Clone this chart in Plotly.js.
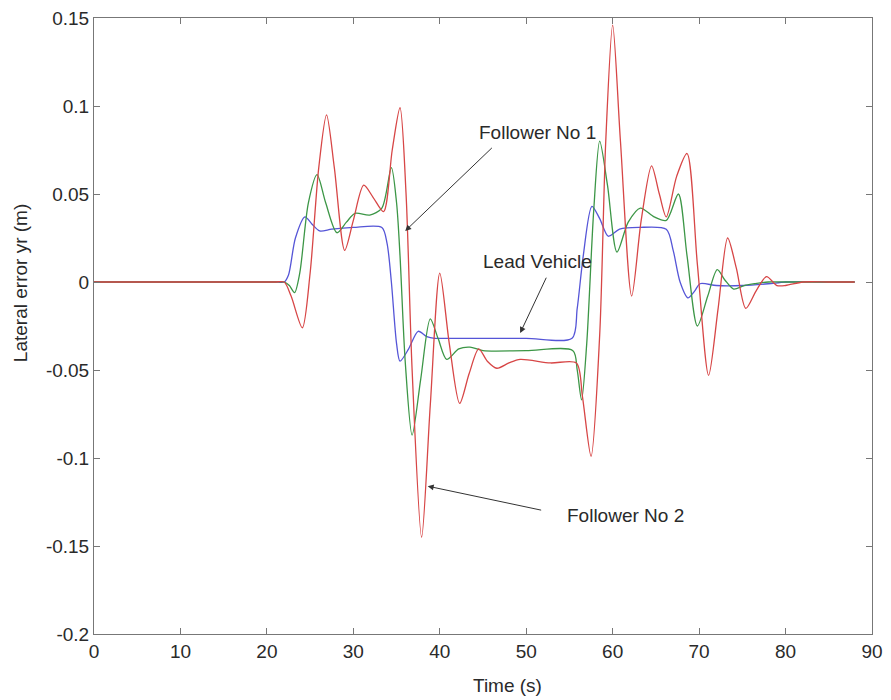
<!DOCTYPE html>
<html>
<head>
<meta charset="utf-8">
<script src="https://cdn.plot.ly/plotly-3.0.1.min.js"></script>
<style>html,body{margin:0;padding:0;background:#fff;}#chart{width:891px;height:700px;}</style>
</head>
<body>
<div id="chart"></div>
<script>
// Lead vehicle (blue)
const leadT = [0, 5, 10, 15, 20, 21, 22, 22.5, 23.3, 24.4, 25.2, 26.1, 27.5, 30, 33.3, 33.9, 34.4, 35.0, 35.4, 36.4, 37.5, 38.5, 39.4, 41, 45, 50, 55.3, 55.9, 56.6, 57.6, 58.5, 59.5, 60.8, 63, 66.2, 67, 67.8, 68.7, 69.5, 70.1, 72, 75, 78, 80, 84, 88];
const leadY = [0, 0, 0, 0, 0, 0, 0, 0.004, 0.025, 0.037, 0.033, 0.029, 0.030, 0.031, 0.031, 0.022, 0.000, -0.035, -0.045, -0.038, -0.028, -0.031, -0.032, -0.032, -0.032, -0.032, -0.032, -0.015, 0.015, 0.043, 0.036, 0.026, 0.030, 0.031, 0.030, 0.018, 0.000, -0.009, -0.005, -0.001, -0.002, -0.002, -0.001, 0, 0, 0];
// Follower No 1 (green)
const f1T = [0, 5, 10, 15, 20, 21, 22, 22.6, 23.2, 23.8, 24.8, 25.8, 26.8, 28.1, 29.2, 30.2, 31.9, 33.3, 34.4, 35.0, 35.4, 36.0, 36.8, 37.8, 38.9, 39.8, 40.8, 42.2, 43.5, 45, 50, 55.4, 55.9, 56.4, 57.0, 57.8, 58.5, 59.4, 60.5, 61.8, 63.2, 64.8, 66.2, 67.6, 68.6, 69.8, 71.0, 72.1, 73.0, 74.0, 75.2, 76.4, 78, 80, 84, 88];
const f1Y = [0, 0, 0, 0, 0, 0, 0, -0.002, -0.006, 0.005, 0.045, 0.061, 0.045, 0.028, 0.034, 0.039, 0.038, 0.042, 0.065, 0.045, 0.015, -0.045, -0.087, -0.055, -0.021, -0.032, -0.044, -0.038, -0.037, -0.039, -0.039, -0.039, -0.050, -0.067, -0.035, 0.040, 0.080, 0.055, 0.017, 0.034, 0.042, 0.037, 0.035, 0.050, 0.015, -0.025, -0.008, 0.007, 0.001, -0.004, -0.002, -0.001, 0, 0, 0, 0];
// Follower No 2 (red)
const f2T = [0, 5, 10, 15, 20, 21, 22, 22.8, 24.1, 25.0, 26.0, 26.9, 27.8, 29.0, 30.0, 31.2, 32.3, 33.5, 34.5, 35.4, 36.1, 36.8, 37.9, 38.9, 40.0, 41.1, 42.3, 43.4, 44.5, 45.5, 46.6, 48, 49.3, 52.8, 55.8, 56.5, 57.5, 58.5, 59.2, 60.0, 60.9, 62.2, 63.3, 64.5, 65.4, 66.2, 67.4, 68.6, 69.8, 71.1, 72.2, 73.3, 74.3, 75.4, 76.6, 77.8, 79, 80, 82, 85, 88];
const f2Y = [0, 0, 0, 0, 0, 0, 0, -0.008, -0.026, 0.005, 0.065, 0.095, 0.065, 0.018, 0.035, 0.055, 0.048, 0.040, 0.075, 0.099, 0.050, -0.050, -0.145, -0.070, 0.005, -0.035, -0.069, -0.052, -0.038, -0.045, -0.049, -0.046, -0.044, -0.046, -0.046, -0.065, -0.099, -0.030, 0.080, 0.146, 0.080, -0.008, 0.035, 0.066, 0.050, 0.037, 0.060, 0.073, 0.010, -0.053, -0.015, 0.025, 0.008, -0.015, -0.005, 0.003, -0.002, -0.002, 0, 0, 0];

const xTicks = [0, 10, 20, 30, 40, 50, 60, 70, 80, 90];
const yTicks = [-0.2, -0.15, -0.1, -0.05, 0, 0.05, 0.1, 0.15];
const yTickText = ['-0.2', '-0.15', '-0.1', '-0.05', '0', '0.05', '0.1', '0.15'];

const lineStyle = (c) => ({color: c, width: 1.3, shape: 'spline', smoothing: 0.8});
const traces = [
  {x: leadT, y: leadY, mode: 'lines', name: 'Lead Vehicle', line: lineStyle('rgb(85,85,215)')},
  {x: f1T, y: f1Y, mode: 'lines', name: 'Follower No 1', line: lineStyle('rgb(60,150,70)')},
  {x: f2T, y: f2Y, mode: 'lines', name: 'Follower No 2', line: lineStyle('rgb(215,70,70)')}
];

const font = {family: 'Liberation Sans, Arial, sans-serif', size: 19, color: '#2a2a2a'};
const axisCommon = {
  showgrid: false, zeroline: false, showline: true, mirror: 'ticks',
  linecolor: '#777', linewidth: 1, ticks: 'inside', ticklen: 6, tickcolor: '#777',
  tickfont: font
};

const arrowCommon = {xref: 'x', yref: 'y', axref: 'x', ayref: 'y', text: '', showarrow: true,
  arrowhead: 2, arrowsize: 1.2, arrowwidth: 1, arrowcolor: '#333'};

const layout = {
  width: 891, height: 700,
  margin: {l: 94, r: 19, t: 18, b: 66},
  paper_bgcolor: '#fff', plot_bgcolor: '#fff',
  showlegend: false,
  font: font,
  xaxis: Object.assign({}, axisCommon, {range: [0, 90], tickvals: xTicks}),
  yaxis: Object.assign({}, axisCommon, {range: [-0.2, 0.15], tickvals: yTicks, ticktext: yTickText}),
  annotations: [
    {xref: 'paper', yref: 'paper', x: 0.531, y: -0.083, xanchor: 'center', yanchor: 'middle', text: 'Time (s)', showarrow: false, font: font},
    {xref: 'paper', yref: 'paper', x: -0.0935, y: 0.57, xanchor: 'center', yanchor: 'middle', text: 'Lateral error yr (m)', textangle: -90, showarrow: false, font: font},
    {xref: 'x', yref: 'y', x: 51.3, y: 0.085, text: 'Follower No 1', showarrow: false, font: font},
    {xref: 'x', yref: 'y', x: 51.3, y: 0.0116, text: 'Lead Vehicle', showarrow: false, font: font},
    {xref: 'x', yref: 'y', x: 61.5, y: -0.1327, text: 'Follower No 2', showarrow: false, font: font},
    Object.assign({}, arrowCommon, {x: 36.0, y: 0.029, ax: 46.2, ay: 0.077}),
    Object.assign({}, arrowCommon, {x: 49.3, y: -0.029, ax: 52.4, ay: 0.0033}),
    Object.assign({}, arrowCommon, {x: 38.6, y: -0.116, ax: 51.9, ay: -0.1298})
  ]
};

Plotly.newPlot('chart', traces, layout, {displayModeBar: false, staticPlot: true});
</script>
</body>
</html>
